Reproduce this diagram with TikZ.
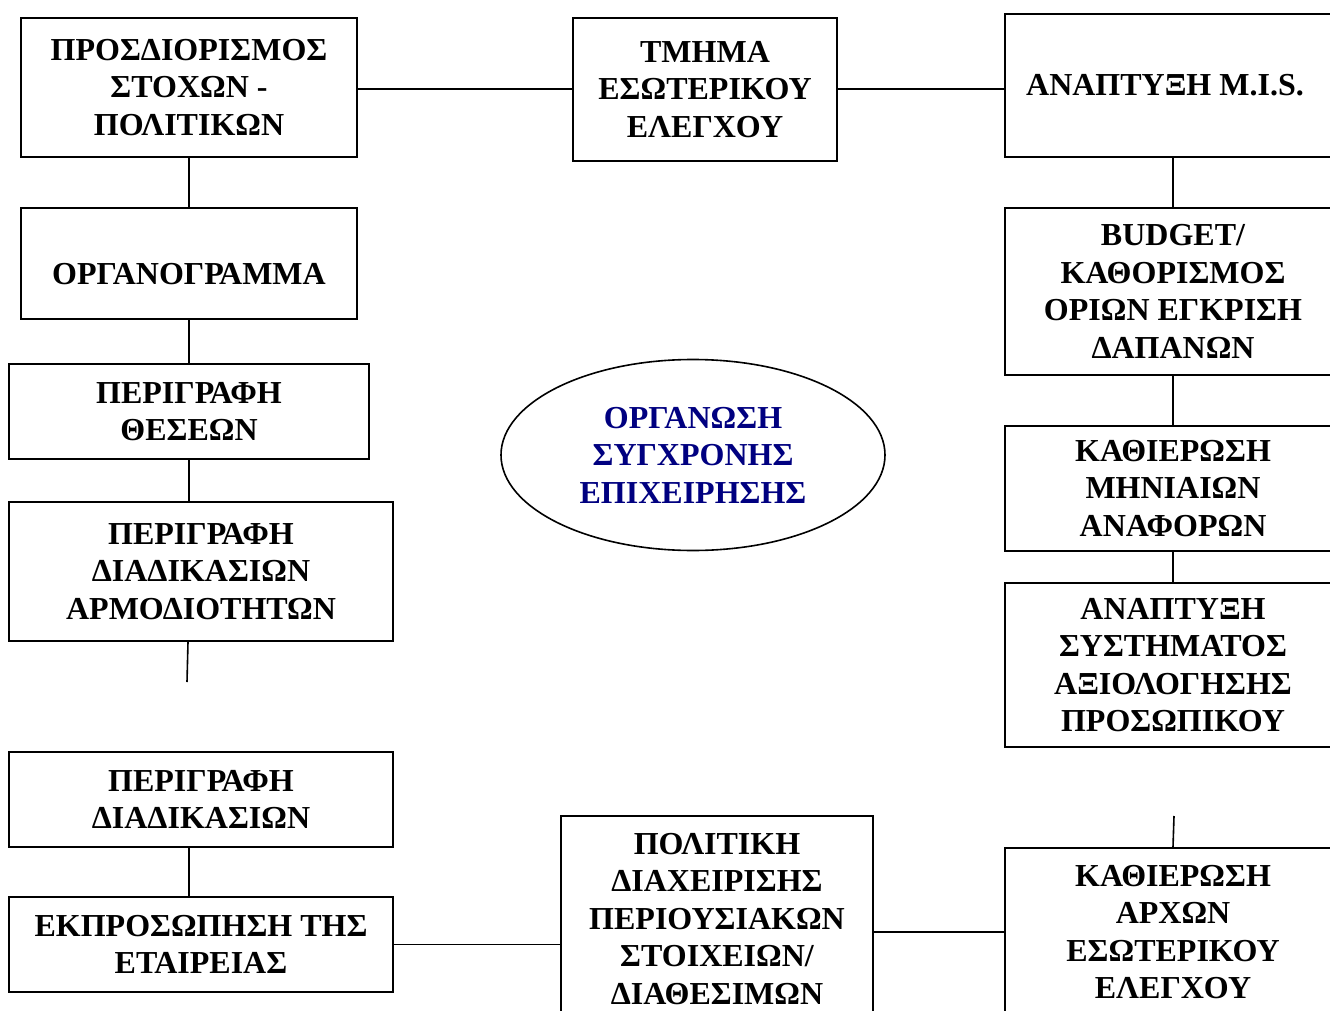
\documentclass[tikz,border=0pt]{standalone}
\usepackage{fontspec}
\setmainfont{Liberation Serif}
\usepackage{tikz}
\usetikzlibrary{shapes.geometric}
\usepackage{xcolor}
\definecolor{hubtext}{RGB}{0, 0, 128}
\newcommand{\boxfont}{\fontsize{32}{37.5}\selectfont\bfseries}

\begin{document}
\begin{tikzpicture}[x=1pt, y=-1pt,
  orgbox/.style={draw, line width=2pt, align=center, inner sep=0pt, font=\boxfont},
  link/.style={line width=1.6pt}]
  \clip (0,0) rectangle (1330,1011);
  \fill[white] (0,0) rectangle (1330,1011);

  % --- Left column ---
  \node[orgbox, minimum width=336pt, minimum height=139pt] (goals) at (189,87.5)
       {ΠΡΟΣΔΙΟΡΙΣΜΟΣ\\ΣΤΟΧΩΝ -\\ΠΟΛΙΤΙΚΩΝ};
  \node[orgbox, minimum width=336pt, minimum height=111pt, text height=41pt, text depth=0pt]
       (orgchart) at (189,263.5) {ΟΡΓΑΝΟΓΡΑΜΜΑ};
  \node[orgbox, minimum width=360pt, minimum height=95pt] (posts) at (189,411.5)
       {ΠΕΡΙΓΡΑΦΗ\\ΘΕΣΕΩΝ};
  \node[orgbox, minimum width=384pt, minimum height=139pt] (duties) at (201,571.5)
       {ΠΕΡΙΓΡΑΦΗ\\ΔΙΑΔΙΚΑΣΙΩΝ\\ΑΡΜΟΔΙΟΤΗΤΩΝ};
  \coordinate (stubL) at (187,682);
  \node[orgbox, minimum width=384pt, minimum height=95pt] (procs) at (201,799.5)
       {ΠΕΡΙΓΡΑΦΗ\\ΔΙΑΔΙΚΑΣΙΩΝ};
  \node[orgbox, minimum width=384pt, minimum height=95pt] (repr) at (201,944.5)
       {ΕΚΠΡΟΣΩΠΗΣΗ ΤΗΣ\\ΕΤΑΙΡΕΙΑΣ};

  % --- Middle ---
  \node[orgbox, minimum width=264pt, minimum height=143pt] (audit) at (705,89.5)
       {ΤΜΗΜΑ\\ΕΣΩΤΕΡΙΚΟΥ\\ΕΛΕΓΧΟΥ};
  \node[ellipse, draw, line width=1.6pt, minimum width=384pt, minimum height=191pt,
        inner sep=0pt, align=center, font=\boxfont, text=hubtext] (hub) at (693,455)
       {ΟΡΓΑΝΩΣΗ\\ΣΥΓΧΡΟΝΗΣ\\ΕΠΙΧΕΙΡΗΣΗΣ};
  \node[orgbox, minimum width=312pt, minimum height=206pt] (assets) at (717,919)
       {ΠΟΛΙΤΙΚΗ\\ΔΙΑΧΕΙΡΙΣΗΣ\\ΠΕΡΙΟΥΣΙΑΚΩΝ\\ΣΤΟΙΧΕΙΩΝ/\\ΔΙΑΘΕΣΙΜΩΝ};

  % --- Right column ---
  \node[orgbox, minimum width=336pt, minimum height=143pt] (mis) at (1173,85.5)
       {ΑΝΑΠΤΥΞΗ M.I.S.\hspace*{16pt}};
  \node[orgbox, minimum width=336pt, minimum height=167pt] (budget) at (1173,291.5)
       {BUDGET/\\ΚΑΘΟΡΙΣΜΟΣ\\ΟΡΙΩΝ ΕΓΚΡΙΣΗ\\ΔΑΠΑΝΩΝ};
  \node[orgbox, minimum width=336pt, minimum height=125pt] (reports) at (1173,488.5)
       {ΚΑΘΙΕΡΩΣΗ\\ΜΗΝΙΑΙΩΝ\\ΑΝΑΦΟΡΩΝ};
  \node[orgbox, minimum width=336pt, minimum height=164pt] (appraisal) at (1173,665)
       {ΑΝΑΠΤΥΞΗ\\ΣΥΣΤΗΜΑΤΟΣ\\ΑΞΙΟΛΟΓΗΣΗΣ\\ΠΡΟΣΩΠΙΚΟΥ};
  \coordinate (stubR) at (1174,816);
  \node[orgbox, minimum width=336pt, minimum height=168pt] (principles) at (1173,932)
       {ΚΑΘΙΕΡΩΣΗ\\ΑΡΧΩΝ\\ΕΣΩΤΕΡΙΚΟΥ\\ΕΛΕΓΧΟΥ};

  % --- Links ---
  \draw[link] (goals) -- (orgchart);
  \draw[link] (orgchart) -- (posts);
  \draw[link] (posts.south) -- (posts.south |- duties.north);
  \draw[link] ([xshift=-13pt]duties.south) -- (stubL);
  \draw[link] ([xshift=-12pt]procs.south) -- ([xshift=-12pt]repr.north);
  \draw[link] (goals.east |- 0,89) -- (audit.west |- 0,89);
  \draw[link] (audit.east |- 0,89) -- (mis.west |- 0,89);
  \draw[link] (mis) -- (budget);
  \draw[link] (budget) -- (reports);
  \draw[link] (reports) -- (appraisal);
  \draw[link] (stubR) -- (principles.north);
  \draw[link] (repr.east) -- (repr.east -| assets.west);
  \draw[link] (principles.west -| assets.east) -- (principles.west);
\end{tikzpicture}
\end{document}
